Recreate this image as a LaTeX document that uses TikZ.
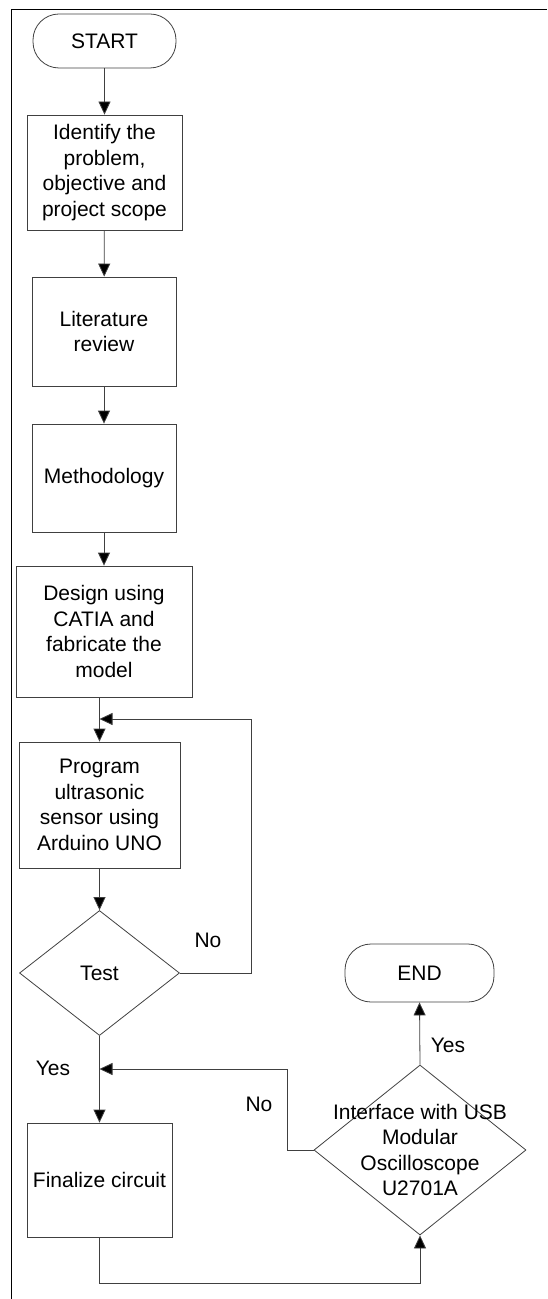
\documentclass[tikz,border=0pt]{standalone}
\usepackage{fontspec}
\setmainfont{Liberation Sans}
\usetikzlibrary{arrows.meta,shapes.geometric}

\begin{document}
\begin{tikzpicture}[x=0.5pt,y=-0.5pt,
    every node/.style={font=\fontsize{10.5}{12.75}\selectfont,align=center,inner sep=0pt},
    procbox/.style={draw=black!75,rectangle},
    termbox/.style={draw=black!75,rectangle,rounded corners=13pt},
    decision/.style={draw=black!75,diamond},
    flow/.style={draw=black!75,-{Triangle[length=6.5pt,width=6pt,fill=black]}}]
  \useasboundingbox (0,0) rectangle (547,1299);
  %frame
  \path[draw] (11,1299)--(11,9)--(547,9);
  %main column
  \node[termbox,minimum width=71.5pt,minimum height=27pt] (start) at (104.5,41) {START};
  \node[procbox,minimum width=77.5pt,minimum height=57.5pt] (identify) at (104.5,172.5) {Identify the\\problem,\\objective and\\project scope};
  \node[procbox,minimum width=72pt,minimum height=54.5pt] (litreview) at (104,331.5) {Literature\\review};
  \node[procbox,minimum width=72pt,minimum height=54pt] (method) at (104,478) {Methodology};
  \node[procbox,minimum width=88pt,minimum height=65.5pt] (design) at (104,631.5) {Design using\\CATIA and\\fabricate the\\model};
  \node[procbox,minimum width=80.5pt,minimum height=63pt] (program) at (99.5,805) {Program\\ultrasonic\\sensor using\\Arduino UNO};
  \node[decision,minimum width=80pt,minimum height=62.5pt] (test) at (99.5,973) {Test};
  \node[procbox,minimum width=72.5pt,minimum height=57pt] (finalize) at (99.5,1180) {Finalize circuit};
  %right column
  \node[termbox,minimum width=74.5pt,minimum height=29pt] (end) at (419.5,973) {END};
  \node[decision,minimum width=106pt,minimum height=85pt,
        label={[align=center]center:Interface with USB\\Modular\\Oscilloscope\\U2701A}] (iface) at (420,1150) {};
  \coordinate (loopr) at (251,719);
  \coordinate (loopin) at (99.5,719);
  \coordinate (join) at (99.5,1069);
  %connectors
  \path[flow] (start)--(identify);
  \path[flow] (identify)--(litreview);
  \path[flow] (litreview)--(method);
  \path[flow] (method)--(design.south |- method.south) -- (design.north);
  \path[flow] (design.south -| program.north)--(program.north);
  \path[flow] (program)--(test);
  \path[flow] (test.east)-|(loopr)--(loopin);
  \path[flow] (test.south)--(finalize.north);
  \path[flow] (iface.west)--++(-26,0)|-(join);
  \path[flow] (iface.north)--(end.south);
  \path[flow] (finalize.south)--++(0,46)-|(iface.south);
  %labels
  \node[] (nolabela) at (208,940) {No};
  \node[] (yeslabela) at (53,1068) {Yes};
  \node[] (nolabelb) at (259,1104) {No};
  \node[] (yeslabelb) at (448,1045) {Yes};
\end{tikzpicture}
\end{document}
